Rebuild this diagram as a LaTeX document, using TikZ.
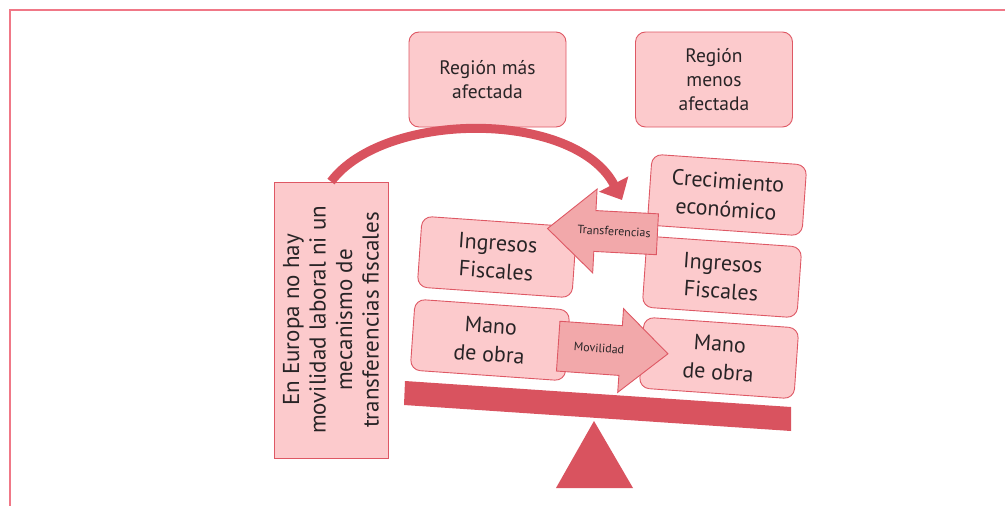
\documentclass[tikz,border=0pt]{standalone}
\usepackage{fontspec}
\setmainfont{PT Sans}
\usetikzlibrary{shapes.arrows,arrows.meta}

\definecolor{cajafondo}{RGB}{252,202,204}
\definecolor{cajaborde}{RGB}{222,88,100}
\definecolor{flechafondo}{RGB}{242,168,170}
\definecolor{balanza}{RGB}{217,83,95}
\definecolor{marco}{RGB}{240,120,135}
\definecolor{texto}{RGB}{40,36,38}

\begin{document}
\begin{tikzpicture}[
            x=1pt, y=-1pt,
            caja/.style = {shape=rectangle, rounded corners=10pt, draw=cajaborde, fill=cajafondo, line width=0.9pt, align=center, text=texto, minimum width=155pt, minimum height=71pt, font=\fontsize{22}{28}\selectfont},
            region/.style = {caja, minimum width=157pt, minimum height=95pt, font=\fontsize{19.5}{24}\selectfont},
            flecha/.style = {single arrow, draw=cajaborde, fill=flechafondo, line width=0.9pt, single arrow tip angle=83, minimum height=110pt, text=texto, text height=8pt, text depth=1pt, font=\fontsize{12}{14}\selectfont}
        ]
        \useasboundingbox (0,0) rectangle (1005,506);
        \draw[marco, line width=1.2pt] (10,506) -- (10,10) -- (1005,10);

        % regiones
        \node[region] (mas) at (487.5,79.5) {Región más\\afectada};
        \node[region] (menos) at (714,79.5) {Región\\menos\\afectada};

        % cuadro vertical
        \node[caja, rounded corners=0pt, rotate=90, minimum width=276pt, minimum height=114pt, font=\fontsize{23}{26.5}\selectfont] (europa) at (331,320)
            {En Europa no hay\\movilidad laboral ni un\\mecanismo de\\transferencias fiscales};

        % cajas inclinadas
        \node[caja, rotate=-4] (ingresosA) at (497,257) {Ingresos\\Fiscales};
        \node[caja, rotate=-4] (manoA) at (490,340) {Mano\\de obra};
        \node[caja, rotate=-4] (crecimiento) at (727,195) {Crecimiento\\económico};
        \node[caja, rotate=-4] (ingresosB) at (722,277) {Ingresos\\Fiscales};
        \node[caja, rotate=-4] (manoB) at (719,358) {Mano\\de obra};

        % flechas
        \node[flecha, shape border rotate=180, rotate=-3, inner ysep=15.5pt, single arrow head extend=21.5pt] (transferencias) at (614,232) {Transferencias};
        \node[flecha, rotate=-4, inner ysep=20pt, single arrow head extend=17pt] (movilidad) at (599,349) {Movilidad};

        % arco
        \coordinate (arcfin) at (622,200);
        \draw[balanza, line width=9pt, -{Triangle[length=18pt, width=32pt]}] (europa.east) .. controls (385,110) and (575,110) .. (arcfin);

        % balanza
        \fill[balanza] (405,381) -- (791,407) -- (791,431) -- (404,405) -- cycle;
        \fill[balanza] (594,421) -- (633,488) -- (556,488) -- cycle;

    \end{tikzpicture}
\end{document}
